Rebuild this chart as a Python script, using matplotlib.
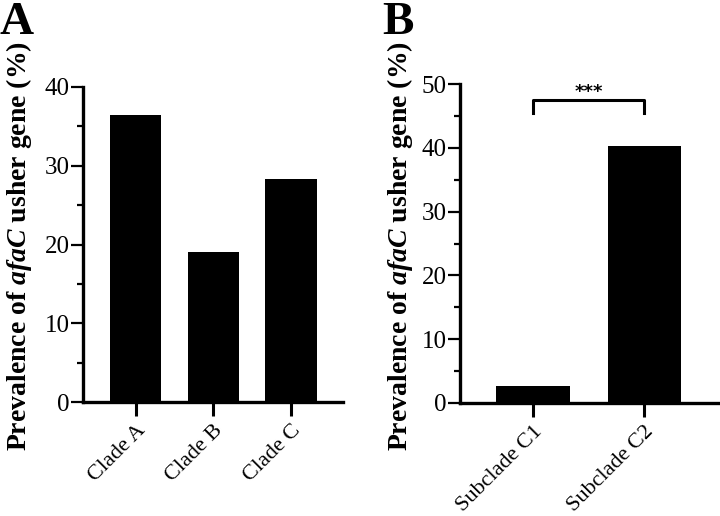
import matplotlib
matplotlib.use("Agg")
import matplotlib.pyplot as plt
from matplotlib.ticker import MultipleLocator

plt.rcParams["font.family"] = ["Liberation Serif", "DejaVu Serif"]
plt.rcParams["mathtext.fontset"] = "custom"
plt.rcParams["mathtext.rm"] = "Liberation Serif"
plt.rcParams["mathtext.it"] = "Liberation Serif:italic"
plt.rcParams["mathtext.bf"] = "Liberation Serif:bold"
plt.rcParams["mathtext.bfit"] = "Liberation Serif:italic:bold"

# Panel A : prévalence par clade
clades = ["Clade A", "Clade B", "Clade C"]
prev_clades = [36.4, 19.1, 28.3]

# Panel B : prévalence par sous-clade
subclades = ["Subclade C1", "Subclade C2"]
prev_subclades = [2.7, 40.3]
signif_label = "***"

ylabel = r"Prevalence of $\mathbfit{afaC}$ usher gene (%)"

fig = plt.figure(figsize=(7.2, 5.16), dpi=100)
axA = fig.add_axes([0.1153, 0.2209, 0.3611, 0.6105])
axB = fig.add_axes([0.6389, 0.219, 0.3611, 0.6182])


def style_axis(ax, ymax, minor):
    for side in ["top", "right"]:
        ax.spines[side].set_visible(False)
    for side in ["left", "bottom"]:
        ax.spines[side].set_linewidth(2.4)
    ax.set_ylim(0, ymax)
    ax.yaxis.set_major_locator(MultipleLocator(10))
    ax.yaxis.set_minor_locator(MultipleLocator(minor))
    ax.tick_params(axis="y", which="major", length=8.5, width=1.6, labelsize=18, pad=1)
    ax.tick_params(axis="y", which="minor", length=4.5, width=1.6)
    ax.tick_params(axis="x", which="major", length=10, width=2.2, labelsize=16, pad=4)


# Panel A
axA.bar(range(len(clades)), prev_clades, width=0.66, color="black")
axA.set_xlim(-0.68, 2.67)
style_axis(axA, 40, 5)
axA.set_xticks(range(len(clades)))
axA.set_xticklabels(clades, rotation=45, ha="right", va="top", rotation_mode="anchor")

# Panel B
axB.bar(range(len(subclades)), prev_subclades, width=0.66, color="black")
axB.set_xlim(-0.656, 1.68)
style_axis(axB, 50, 5)
axB.set_xticks(range(len(subclades)))
axB.set_xticklabels(subclades, rotation=45, ha="right", va="top", rotation_mode="anchor")

# crochet de significativité
axB.plot([0, 0, 1, 1], [45.4, 47.5, 47.5, 45.4], color="black", lw=2.2, clip_on=False)
axB.text(0.5, 48.8, signif_label, ha="center", va="center", fontsize=13,
         fontweight="bold", family="DejaVu Sans")

# titres d'axe
fig.text(0.026, 0.523, ylabel, rotation=90, ha="center", va="center",
         fontsize=20, fontweight="bold")
fig.text(0.556, 0.523, ylabel, rotation=90, ha="center", va="center",
         fontsize=20, fontweight="bold")

# lettres des panneaux
fig.text(0.0, 0.997, "A", ha="left", va="top", fontsize=34, fontweight="bold")
fig.text(0.531, 0.997, "B", ha="left", va="top", fontsize=34, fontweight="bold")

fig.savefig("out.png", dpi=100)
